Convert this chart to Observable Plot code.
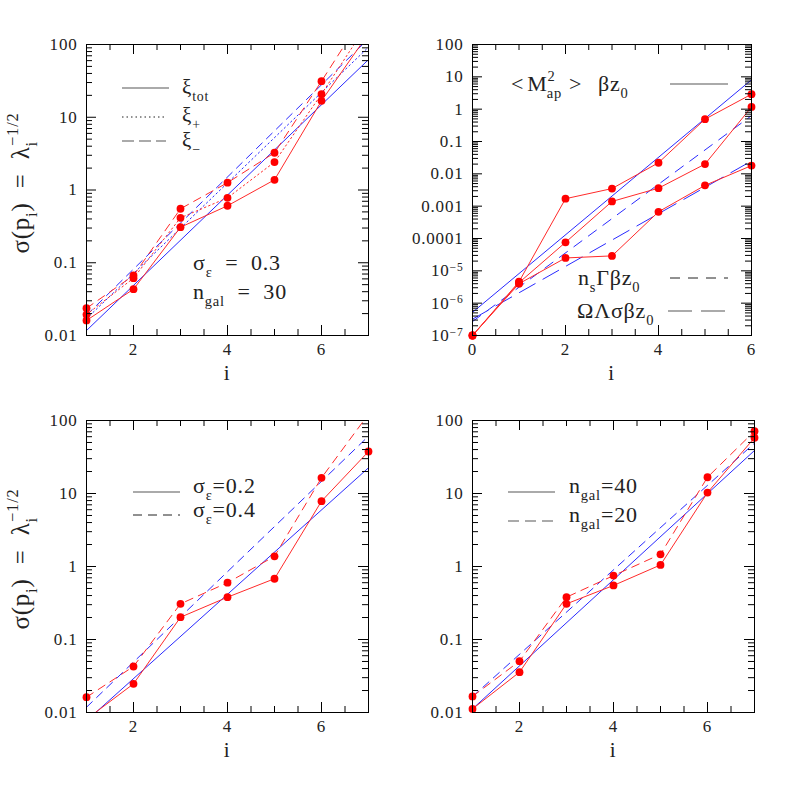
<!DOCTYPE html>
<html><head><meta charset="utf-8">
<script src="https://cdn.jsdelivr.net/npm/d3@7"></script>
<script src="https://cdn.jsdelivr.net/npm/@observablehq/plot@0.6"></script>
<style>
body{margin:0;background:#fff;}
#wrap{position:relative;width:797px;height:797px;background:#fff;overflow:hidden;}
#wrap svg{position:absolute;overflow:visible;}
#wrap text{letter-spacing:0.8px;white-space:pre;}
</style></head><body><div id="wrap"></div>
<script>
// ---------- data ----------
// top-left panel (sigma_eps = 0.3, n_gal = 30)
const tlI = [1, 2, 3, 4, 5, 6, 7];
const tlRedTot = [0.0161, 0.0433, 0.308, 0.607, 1.38, 16.8, 141];
const tlRedPlus = [0.0194, 0.0614, 0.415, 0.78, 2.42, 20.8, 200];
const tlRedMinus = [0.0237, 0.0668, 0.552, 1.26, 3.25, 31.3, 320];
const tlFitI = [1, 7];
const tlBlueTot = [0.0117, 62];
const tlBluePlus = [0.017, 92];
const tlBlueMinus = [0.019, 120];
const tlYTicks = [0.01, 0.1, 1, 10, 100];
const tlYLabels = ["0.01", "0.1", "1", "10", "100"];
const tlXTicks = [2, 4, 6];

// top-right panel (<M_ap^2>)
const trI = [0, 1, 2, 3, 4, 5, 6];
const trRedBz = [1e-7, 4.6e-6, 0.0017, 0.0035, 0.022, 0.49, 2.9];
const trRedNs = [1e-7, 4.3e-6, 7.6e-5, 0.0014, 0.0036, 0.020, 1.17];
const trRedOm = [1e-7, 4.0e-6, 2.5e-5, 2.9e-5, 6.7e-4, 0.0044, 0.018];
const trFitI = [0, 6];
const trBlueBz = [5.2e-7, 8.1];
const trBlueNs = [2.7e-7, 0.63];
const trBlueOm = [3.2e-7, 0.025];
const trYTicks = [1e-7, 1e-6, 1e-5, 1e-4, 1e-3, 0.01, 0.1, 1, 10, 100];
const trYLabels = ["10^-7", "10^-6", "10^-5", "0.0001", "0.001", "0.01", "0.1", "1", "10", "100"];
const trXTicks = [0, 2, 4, 6];

// bottom-left panel (sigma_eps = 0.2 / 0.4)
const blI = [1, 2, 3, 4, 5, 6, 7];
const blRedS02 = [0.0081, 0.0247, 0.202, 0.38, 0.68, 7.85, 37.6];
const blRedS04 = [0.0162, 0.0427, 0.308, 0.60, 1.38, 16.4, 122];
const blFitI = [1, 7];
const blBlueS02 = [0.0077, 22.5];
const blBlueS04 = [0.0118, 61];

// bottom-right panel (n_gal = 40 / 20)
const brI = [1, 2, 3, 4, 5, 6, 7];
const brRedN40 = [0.0112, 0.0357, 0.308, 0.55, 1.05, 10.3, 58];
const brRedN20 = [0.0166, 0.0505, 0.38, 0.75, 1.47, 16.7, 71.4];
const brFitI = [1, 7];
const brBlueN40 = [0.0112, 38.8];
const brBlueN20 = [0.0165, 49];

// ---------- helpers ----------
const RED = "#ff2a2a", BLUE = "#2a2aff";
const FONT = '"Liberation Serif", "Times New Roman", serif';
const rows = (xs, ys) => xs.map((x, k) => ({x, y: ys[k]}));

function rich(g, x, y, parts, size, opts = {}) {
  const t = g.append("text").attr("x", x).attr("y", y)
    .attr("font-size", size).attr("fill", opts.fill || "#222")
    .attr("text-anchor", opts.anchor || "start")
    .style("font-family", FONT);
  if (opts.transform) t.attr("transform", opts.transform);
  let shift = 0;
  for (const p of parts) {
    const target = p.sub ? size * 0.32 : p.sup ? -size * 0.45 : 0;
    const fs = (p.sub || p.sup) ? size * 0.66 : size;
    const ts = t.append("tspan").attr("dy", target - shift).attr("font-size", fs).text(p.t);
    if (p.dx) ts.attr("dx", p.dx);
    shift = target;
  }
  return t;
}

function legLine(g, x1, x2, y, stroke, width, dash) {
  const l = g.append("line").attr("x1", x1).attr("x2", x2).attr("y1", y).attr("y2", y)
    .attr("stroke", stroke).attr("stroke-width", width);
  if (dash) l.attr("stroke-dasharray", dash);
}

function makePanel(cfg) {
  const {left, top, w, h, fx, fy, xDomain, yDomain, xMajor, yTicks, yLabels, series} = cfg;
  const iw = fx[1] - fx[0], ih = fy[1] - fy[0];
  const yMinor = [];
  const e0 = Math.round(Math.log10(yDomain[0])), e1 = Math.round(Math.log10(yDomain[1]));
  for (let e = e0; e < e1; e++) for (let k = 2; k <= 9; k++) yMinor.push(k * Math.pow(10, e));
  const xMinor = [];
  for (let v = xDomain[0] + 0.5; v < xDomain[1]; v += 0.5) if (!xMajor.includes(v)) xMinor.push(v);
  const marks = [];
  for (const s of series) {
    marks.push(Plot.line(rows(s.x, s.y), {x: "x", y: "y", stroke: s.color, strokeWidth: 1,
      strokeDasharray: s.dash || null, clip: true}));
  }
  for (const s of series.filter(s => s.dots)) {
    marks.push(Plot.dot(rows(s.x, s.y), {x: "x", y: "y", r: 3.9, fill: "#ff0000",
      filter: d => d.y >= yDomain[0] * 0.999 && d.y <= yDomain[1] * 1.001}));
  }
  const MJ = 10, MN = 6;
  marks.push(
    Plot.tickY(yTicks, {y: d => d, insetRight: iw - MJ, stroke: "#000"}),
    Plot.tickY(yTicks, {y: d => d, insetLeft: iw - MJ, stroke: "#000"}),
    Plot.tickY(yMinor, {y: d => d, insetRight: iw - MN, stroke: "#000"}),
    Plot.tickY(yMinor, {y: d => d, insetLeft: iw - MN, stroke: "#000"}),
    Plot.tickX(xMajor, {x: d => d, insetTop: ih - MJ, stroke: "#000"}),
    Plot.tickX(xMajor, {x: d => d, insetBottom: ih - MJ, stroke: "#000"}),
    Plot.tickX(xMinor, {x: d => d, insetTop: ih - MN, stroke: "#000"}),
    Plot.tickX(xMinor, {x: d => d, insetBottom: ih - MN, stroke: "#000"}),
    Plot.frame({stroke: "#000", strokeWidth: 1}),
    Plot.axisY(yTicks, {tickSize: 0, tickPadding: 9, label: null, fontSize: 17,
      tickFormat: d => yLabels[yTicks.indexOf(d)]}),
    Plot.axisX(xMajor, {tickSize: 0, tickPadding: 7, label: null, fontSize: 17,
      tickFormat: d => String(d)})
  );
  const svg = Plot.plot({
    width: w, height: h,
    marginLeft: fx[0] - left, marginRight: left + w - fx[1],
    marginTop: fy[0] - top, marginBottom: top + h - fy[1],
    x: {domain: xDomain},
    y: {type: "log", domain: yDomain},
    style: {fontFamily: FONT, fontSize: "17px", background: "transparent", color: "#222", overflow: "visible"},
    marks
  });
  svg.style.left = left + "px";
  svg.style.top = top + "px";
  svg.style.position = "absolute";
  svg.style.fontFamily = FONT;
  // superscript tick labels of the form 10^-n
  d3.select(svg).selectAll("text").each(function () {
    const m = /^10\^(-?\d+)$/.exec(this.textContent);
    if (m) {
      const s = d3.select(this);
      s.text("");
      s.append("tspan").text("10");
      s.append("tspan").attr("dy", "-0.45em").attr("font-size", "0.68em").text(m[1].replace("-", "\u2212"));
    }
  });
  document.getElementById("wrap").appendChild(svg);
  const g = d3.select(svg).append("g").attr("transform", `translate(${-left},${-top})`);
  // axis title "i"
  g.append("text").attr("x", (fx[0] + fx[1]) / 2).attr("y", fy[1] + 45)
    .attr("text-anchor", "middle").attr("font-size", 21).style("font-family", FONT)
    .attr("fill", "#222").text("i");
  if (cfg.yTitle) {
    const cy = fy[0] + 139;
    rich(g, 0, 0, [{t: "\u03c3(p"}, {t: "i", sub: 1}, {t: ")  =  \u03bb"}, {t: "i", sub: 1},
      {t: "\u22121/2", sup: 1, dx: -5}], 25, {anchor: "middle", transform: `translate(29,${cy}) rotate(-90)`});
  }
  return g;
}

// ---------- panels ----------
const gTL = makePanel({
  left: 0, top: 0, w: 398, h: 398, fx: [86, 368], fy: [44, 335],
  xDomain: [1, 7], yDomain: [0.01, 100], xMajor: tlXTicks, yTicks: tlYTicks, yLabels: tlYLabels, yTitle: true,
  series: [
    {x: tlFitI, y: tlBlueTot, color: BLUE},
    {x: tlFitI, y: tlBluePlus, color: BLUE, dash: "1.5,3"},
    {x: tlFitI, y: tlBlueMinus, color: BLUE, dash: "8,6"},
    {x: tlI, y: tlRedTot, color: RED, dots: true},
    {x: tlI, y: tlRedPlus, color: RED, dash: "1.5,3", dots: true},
    {x: tlI, y: tlRedMinus, color: RED, dash: "8,6", dots: true}
  ]
});
legLine(gTL, 122, 169, 88, "#aaa", 2);
rich(gTL, 182, 94, [{t: "\u03be"}, {t: "tot", sub: 1}], 21);
legLine(gTL, 122, 167, 117, "#222", 1, "1.5,3");
rich(gTL, 182, 122, [{t: "\u03be"}, {t: "+", sub: 1}], 21);
legLine(gTL, 122, 166, 141, "#aaa", 2, "12,5");
rich(gTL, 182, 147, [{t: "\u03be"}, {t: "\u2212", sub: 1}], 21);
rich(gTL, 193, 270, [{t: "\u03c3"}, {t: "\u03b5", sub: 1}, {t: "  =  0.3"}], 22);
rich(gTL, 193, 299, [{t: "n"}, {t: "gal", sub: 1}, {t: "  =  30"}], 22);

const gTR = makePanel({
  left: 398, top: 0, w: 399, h: 398, fx: [472, 751], fy: [44, 335],
  xDomain: [0, 6], yDomain: [1e-7, 100], xMajor: trXTicks, yTicks: trYTicks, yLabels: trYLabels,
  series: [
    {x: trFitI, y: trBlueBz, color: BLUE},
    {x: trFitI, y: trBlueNs, color: BLUE, dash: "10,8"},
    {x: trFitI, y: trBlueOm, color: BLUE, dash: "18,9"},
    {x: trI, y: trRedBz, color: RED, dots: true},
    {x: trI, y: trRedNs, color: RED, dots: true},
    {x: trI, y: trRedOm, color: RED, dots: true}
  ]
});
rich(gTR, 511, 91, [{t: "<"}, {t: "M", dx: 3}, {t: "2", sup: 1}, {t: "ap", sub: 1, dx: -9}, {t: ">", dx: 7}], 22);
rich(gTR, 598, 91, [{t: "\u03b2z"}, {t: "0", sub: 1}], 22);
legLine(gTR, 670, 728, 84, "#aaa", 2);
rich(gTR, 578, 285, [{t: "n"}, {t: "s", sub: 1}, {t: "\u0393\u03b2z"}, {t: "0", sub: 1}], 22);
legLine(gTR, 670, 728, 278, "#222", 1, "10,8");
rich(gTR, 577, 318, [{t: "\u03a9\u039b\u03c3\u03b2z"}, {t: "0", sub: 1}], 22);
legLine(gTR, 668, 728, 311, "#aaa", 2, "24,9");

const gBL = makePanel({
  left: 0, top: 398, w: 398, h: 399, fx: [86, 368], fy: [420, 712],
  xDomain: [1, 7], yDomain: [0.01, 100], xMajor: tlXTicks, yTicks: tlYTicks, yLabels: tlYLabels, yTitle: true,
  series: [
    {x: blFitI, y: blBlueS02, color: BLUE},
    {x: blFitI, y: blBlueS04, color: BLUE, dash: "8,6"},
    {x: blI, y: blRedS02, color: RED, dots: true},
    {x: blI, y: blRedS04, color: RED, dash: "8,6", dots: true}
  ]
});
legLine(gBL, 133, 180, 492, "#aaa", 2);
rich(gBL, 193, 493, [{t: "\u03c3"}, {t: "\u03b5", sub: 1}, {t: "=0.2"}], 22);
legLine(gBL, 133, 180, 515, "#222", 1, "9,6");
rich(gBL, 193, 517, [{t: "\u03c3"}, {t: "\u03b5", sub: 1}, {t: "=0.4"}], 22);

const gBR = makePanel({
  left: 398, top: 398, w: 399, h: 399, fx: [472, 754], fy: [420, 712],
  xDomain: [1, 7], yDomain: [0.01, 100], xMajor: tlXTicks, yTicks: tlYTicks, yLabels: tlYLabels,
  series: [
    {x: brFitI, y: brBlueN40, color: BLUE},
    {x: brFitI, y: brBlueN20, color: BLUE, dash: "8,6"},
    {x: brI, y: brRedN40, color: RED, dots: true},
    {x: brI, y: brRedN20, color: RED, dash: "8,6", dots: true}
  ]
});
legLine(gBR, 508, 555, 492, "#aaa", 2);
rich(gBR, 569, 493, [{t: "n"}, {t: "gal", sub: 1}, {t: "=40"}], 22);
legLine(gBR, 508, 555, 521, "#aaa", 2, "11,6");
rich(gBR, 569, 522, [{t: "n"}, {t: "gal", sub: 1}, {t: "=20"}], 22);
</script></body></html>
